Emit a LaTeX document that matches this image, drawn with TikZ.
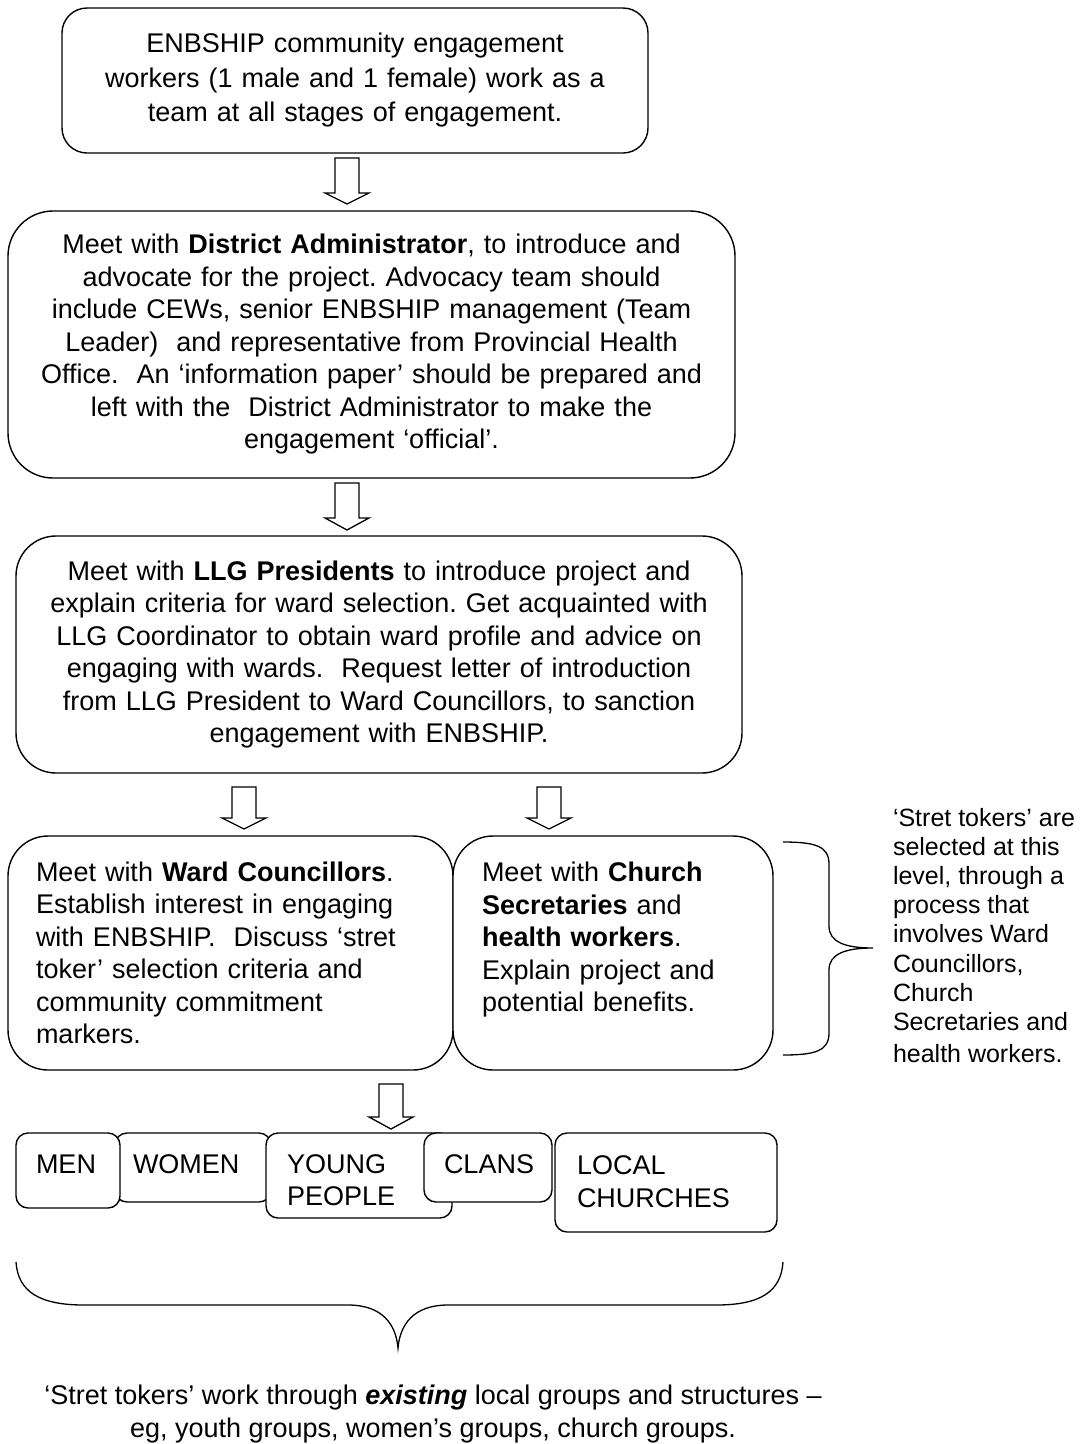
\documentclass[tikz,border=0pt]{standalone}
\usepackage{fontspec}
\setmainfont{Liberation Sans}
\frenchspacing
\newcommand{\myarrow}[4]{%
  \draw[arrowline] (#1-12,#2) -- (#1+12,#2) -- (#1+12,#3) -- (#1+22,#3) -- (#1,#4) -- (#1-22,#3) -- (#1-12,#3) -- cycle;}
\begin{document}
\begin{tikzpicture}[x=1pt,y=-1pt,
  every node/.style={inner sep=0pt, outer sep=0pt},
  txt/.style={font=\fontsize{27}{32.5}\selectfont},
  bigbox/.style={draw, line width=1.4pt, fill=white, rounded corners=#1, anchor=north west, txt},
  sbox/.style={draw, line width=1.4pt, fill=white, rounded corners=12pt, anchor=north west},
  slabel/.style={txt, anchor=base west, align=left},
  arrowline/.style={draw, line width=1.3pt, fill=white, line join=miter},
  bracel/.style={draw, line width=1.3pt}
]
\fill[white] (0,0) rectangle (1085,1444);
\useasboundingbox (0,0) rectangle (1085,1444);

% main boxes
\node[bigbox=25pt, minimum width=586pt, minimum height=145pt, text width=576pt, align=center,
      font=\fontsize{27}{34.5}\selectfont] (b1) at (62,8)
 {ENBSHIP community engagement\\ workers (1 male and 1 female) work as a\\ team at all stages of engagement.};

\node[bigbox=45pt, minimum width=727pt, minimum height=267pt, text width=717pt, align=center] (b2) at (8,211)
 {Meet with \textbf{District Administrator}, to introduce and\\ advocate for the project. Advocacy team should\\ include CEWs, senior ENBSHIP management (Team\\ Leader)~ and representative from Provincial Health\\ Office.~ An ‘information paper’ should be prepared and\\ left with the~ District Administrator to make the\\ engagement ‘official’.};

\node[bigbox=40pt, minimum width=726pt, minimum height=237pt, text width=716pt, align=center] (b3) at (16,536)
 {Meet with \textbf{LLG Presidents} to introduce project and\\ explain criteria for ward selection. Get acquainted with\\ LLG Coordinator to obtain ward profile and advice on\\ engaging with wards.~ Request letter of introduction\\ from LLG President to Ward Councillors, to sanction\\ engagement with ENBSHIP.};

\node[bigbox=40pt, minimum width=445pt, minimum height=234pt, text width=389pt, inner xsep=28pt, align=left] (b4) at (8,836)
 {Meet with \textbf{Ward Councillors}.\\ Establish interest in engaging\\ with ENBSHIP.~ Discuss ‘stret\\ toker’ selection criteria and\\ community commitment\\ markers.};

\node[bigbox=40pt, minimum width=320pt, minimum height=234pt, text width=262pt, inner xsep=29pt, align=left] (b5) at (453,836)
 {Meet with \textbf{Church}\\ \textbf{Secretaries} and\\ \textbf{health workers}.\\ Explain project and\\ potential benefits.\\ \mbox{}};

% block arrows
\myarrow{347}{158}{193}{204}
\myarrow{347}{483}{518}{530}
\myarrow{244}{787}{818}{829}
\myarrow{549}{787}{818}{829}
\myarrow{391}{1084}{1117}{1129}

% small group boxes
\node[sbox, minimum width=156pt, minimum height=69pt] (women) at (115,1133) {};
\node[sbox, minimum width=104pt, minimum height=75pt] (men) at (16,1133) {};
\node[sbox, minimum width=186pt, minimum height=85pt] (young) at (266,1133) {};
\node[sbox, minimum width=128pt, minimum height=69pt] (clans) at (424,1133) {};
\node[sbox, minimum width=222pt, minimum height=99pt] (local) at (555,1133) {};
\node[slabel] (tmen) at (36,1173) {MEN};
\node[slabel] (twomen) at (133,1173) {WOMEN};
\node[slabel] (tyoung) at (287,1205.5) {YOUNG\\ PEOPLE};
\node[slabel] (tclans) at (444,1173) {CLANS};
\node[slabel] (tlocal) at (577,1207) {LOCAL\\ CHURCHES};

% right brace
\coordinate (rbt) at (783,842);
\coordinate (rbb) at (783,1055);
\coordinate (rbtip) at (873,948);
\draw[bracel] (rbt) .. controls (815,842) and (829,846) .. (829,864) -- (829,926)
  .. controls (829,942) and (845,948) .. (rbtip)
  .. controls (845,948) and (829,954) .. (829,970) -- (829,1033)
  .. controls (829,1051) and (815,1055) .. (rbb);

\node[anchor=north west, align=left, font=\fontsize{25}{29.2}\selectfont] (rtext) at (893,808)
 {‘Stret tokers’ are\\ selected at this\\ level, through a\\ process that\\ involves Ward\\ Councillors,\\ Church\\ Secretaries and\\[3pt] health workers.};

% bottom brace
\coordinate (bbl) at (16,1262);
\coordinate (bbr) at (783,1262);
\coordinate (bbtip) at (398,1348);
\draw[bracel] (bbl) .. controls (18,1292) and (40,1305) .. (84,1305) -- (348,1305)
  .. controls (383,1305) and (396,1325) .. (bbtip)
  .. controls (400,1325) and (413,1305) .. (448,1305) -- (716,1305)
  .. controls (760,1305) and (781,1292) .. (bbr);

\node[anchor=north, align=center, font=\fontsize{27}{33}\selectfont] (btext) at (433,1385)
 {‘Stret tokers’ work through \textbf{\textit{existing}} local groups and structures –\\ eg, youth groups, women’s groups, church groups.};
\end{tikzpicture}
\end{document}
